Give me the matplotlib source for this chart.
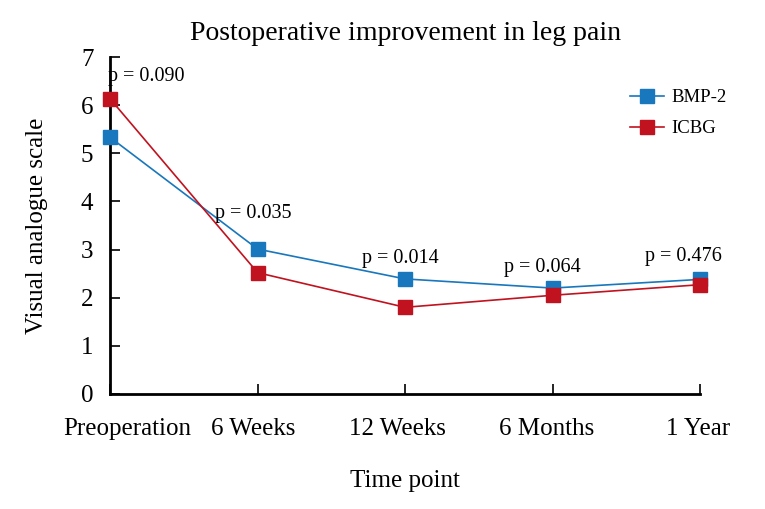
import matplotlib
matplotlib.use("Agg")
import matplotlib.pyplot as plt
from matplotlib.transforms import ScaledTranslation

categories = ["Preoperation", "6 Weeks", "12 Weeks", "6 Months", "1 Year"]
bmp2 = [5.33, 3.01, 2.39, 2.20, 2.38]
icbg = [6.13, 2.52, 1.80, 2.05, 2.27]
p_labels = ["p = 0.090", "p = 0.035", "p = 0.014", "p = 0.064", "p = 0.476"]
p_y = [6.6, 3.75, 2.82, 2.62, 2.85]

plt.rcParams['font.family'] = ['Liberation Serif', 'DejaVu Serif']

fig = plt.figure(figsize=(7.65, 5.09), dpi=100)
ax = fig.add_axes([0.144, 0.226, 0.771, 0.662])

blue = "#1877bd"
red = "#c1121f"
x = list(range(len(categories)))
ax.plot(x, bmp2, color=blue, lw=1.2, marker='s', ms=10, mec=blue, mfc=blue, label="BMP-2", clip_on=False, zorder=3)
ax.plot(x, icbg, color=red, lw=1.2, marker='s', ms=10, mec=red, mfc=red, label="ICBG", clip_on=False, zorder=4)

pxs = [0.0, 0.97, 1.97, 2.93, 3.89]
for i, (lab, yy) in enumerate(zip(p_labels, p_y)):
    if i == 0:
        ax.text(pxs[i] - 0.015, yy, lab, ha='left', va='center', fontsize=14.5)
    else:
        ax.text(pxs[i], yy, lab, ha='center', va='center', fontsize=14.5)

ax.set_xlim(0, 4)
ax.set_ylim(0, 7)
ax.set_xticks(x)
ax.set_xticklabels(categories)
ax.set_yticks(range(0, 8))
ax.tick_params(axis='both', direction='in', length=7, width=1.2, labelsize=18)
ax.tick_params(axis='x', pad=17)
ax.tick_params(axis='y', pad=12)
for s in ['top', 'right']:
    ax.spines[s].set_visible(False)
for s in ['left', 'bottom']:
    ax.spines[s].set_linewidth(2)

# shift tick labels slightly as in reference
shifts = [0.17, -0.04, -0.08, -0.06, -0.02]
for lbl, dx in zip(ax.get_xticklabels(), shifts):
    lbl.set_transform(lbl.get_transform() + ScaledTranslation(dx, 0, fig.dpi_scale_trans))

ax.set_title("Postoperative improvement in leg pain", fontsize=20, pad=12)
ax.set_xlabel("Time point", fontsize=18, labelpad=22)
ax.set_ylabel("Visual analogue scale", fontsize=18, labelpad=24)

leg = ax.legend(loc='upper right', bbox_to_anchor=(1.074, 0.955), frameon=False, fontsize=13.5,
                handlelength=1.8, handletextpad=0.4, labelspacing=0.75)

fig.savefig("out.png", dpi=100)
